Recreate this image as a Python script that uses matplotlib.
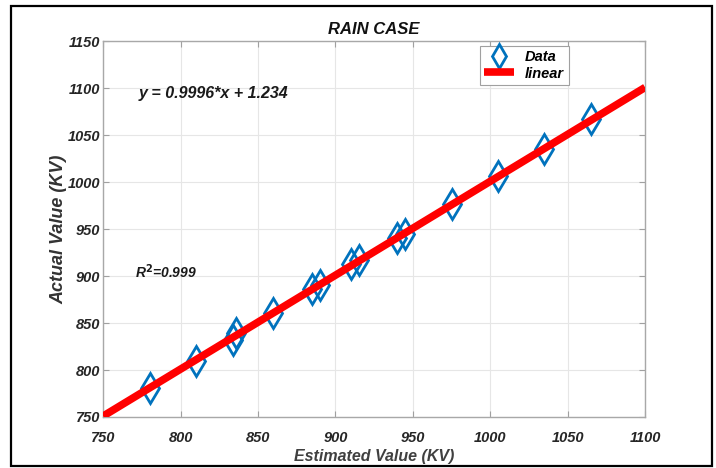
import matplotlib
matplotlib.use("Agg")
import matplotlib.pyplot as plt
from matplotlib.patches import Rectangle
import numpy as np

# values
estimated = [780, 810, 834, 836, 860, 885, 890, 910, 915, 940, 945, 975, 1005, 1035, 1065]
actual = [781, 810, 832, 839, 861, 886, 890, 913, 917, 940, 945, 977, 1006, 1035, 1067]
slope = 0.9996
intercept = 1.234
fit_x = [750, 1100]
xticks = [750, 800, 850, 900, 950, 1000, 1050, 1100]
yticks = [750, 800, 850, 900, 950, 1000, 1050, 1100, 1150]

plt.rcParams['font.family'] = ['Liberation Sans', 'DejaVu Sans']
fnt = dict(weight='bold', style='italic')

fig = plt.figure(figsize=(7.16, 4.68), dpi=100)
ax = fig.add_axes([0.144, 0.109, 0.757, 0.803])

fy = [slope * v + intercept for v in fit_x]
ax.plot(estimated, actual, linestyle='none', marker='d', markersize=15.5,
        markerfacecolor='none', markeredgecolor='#0072BD', markeredgewidth=2.0,
        label='Data', zorder=3)
ax.plot(fit_x, fy, color='#ff0000', linewidth=5.5, label='linear', zorder=4,
        solid_capstyle='butt')

ax.set_xlim(750, 1100)
ax.set_ylim(750, 1150)
ax.set_xticks(xticks)
ax.set_yticks(yticks)
ax.set_xticklabels([str(t) for t in xticks], fontsize=10.5, color='#262626', **fnt)
ax.set_yticklabels([str(t) for t in yticks], fontsize=10.5, color='#262626', **fnt)
ax.tick_params(direction='in', length=4, color='#a0a0a0', top=True, right=True)
ax.tick_params(axis='x', pad=10)
ax.tick_params(axis='y', pad=2)
ax.grid(True, color='#e6e6e6', linewidth=0.8)
ax.set_axisbelow(True)
for s in ax.spines.values():
    s.set_color('#a8a8a8')
    s.set_linewidth(1.0)

ax.set_title('RAIN CASE', fontsize=12, color='#111111', pad=5, **fnt)
ax.set_xlabel('Estimated Value (KV)', fontsize=11.5, color='#404040', labelpad=3, **fnt)
ax.set_ylabel('Actual Value (KV)', fontsize=13, color='#333333', labelpad=0, **fnt)

ax.text(0.065, 0.862, 'y = 0.9996*x + 1.234', transform=ax.transAxes, fontsize=11.5,
        color='#1a1a1a', va='center', **fnt)
ax.text(0.059, 0.386, r'R$^{\mathbf{2}}$=0.999', transform=ax.transAxes, fontsize=10,
        color='#1a1a1a', va='center', **fnt)

leg = ax.legend(loc='upper left', bbox_to_anchor=(0.69, 0.995), fancybox=False,
                edgecolor='#a0a0a0', framealpha=1, borderpad=0.3, handlelength=2.0,
                labelspacing=0.15, prop=dict(size=10.5, **fnt), markerscale=0.8,
                borderaxespad=0.2)
leg.get_frame().set_linewidth(0.8)

fig.patches.append(Rectangle((0.016, 0.005), 0.978, 0.982, transform=fig.transFigure,
                             fill=False, edgecolor='black', linewidth=1.6))

fig.savefig('out.png', dpi=100)
